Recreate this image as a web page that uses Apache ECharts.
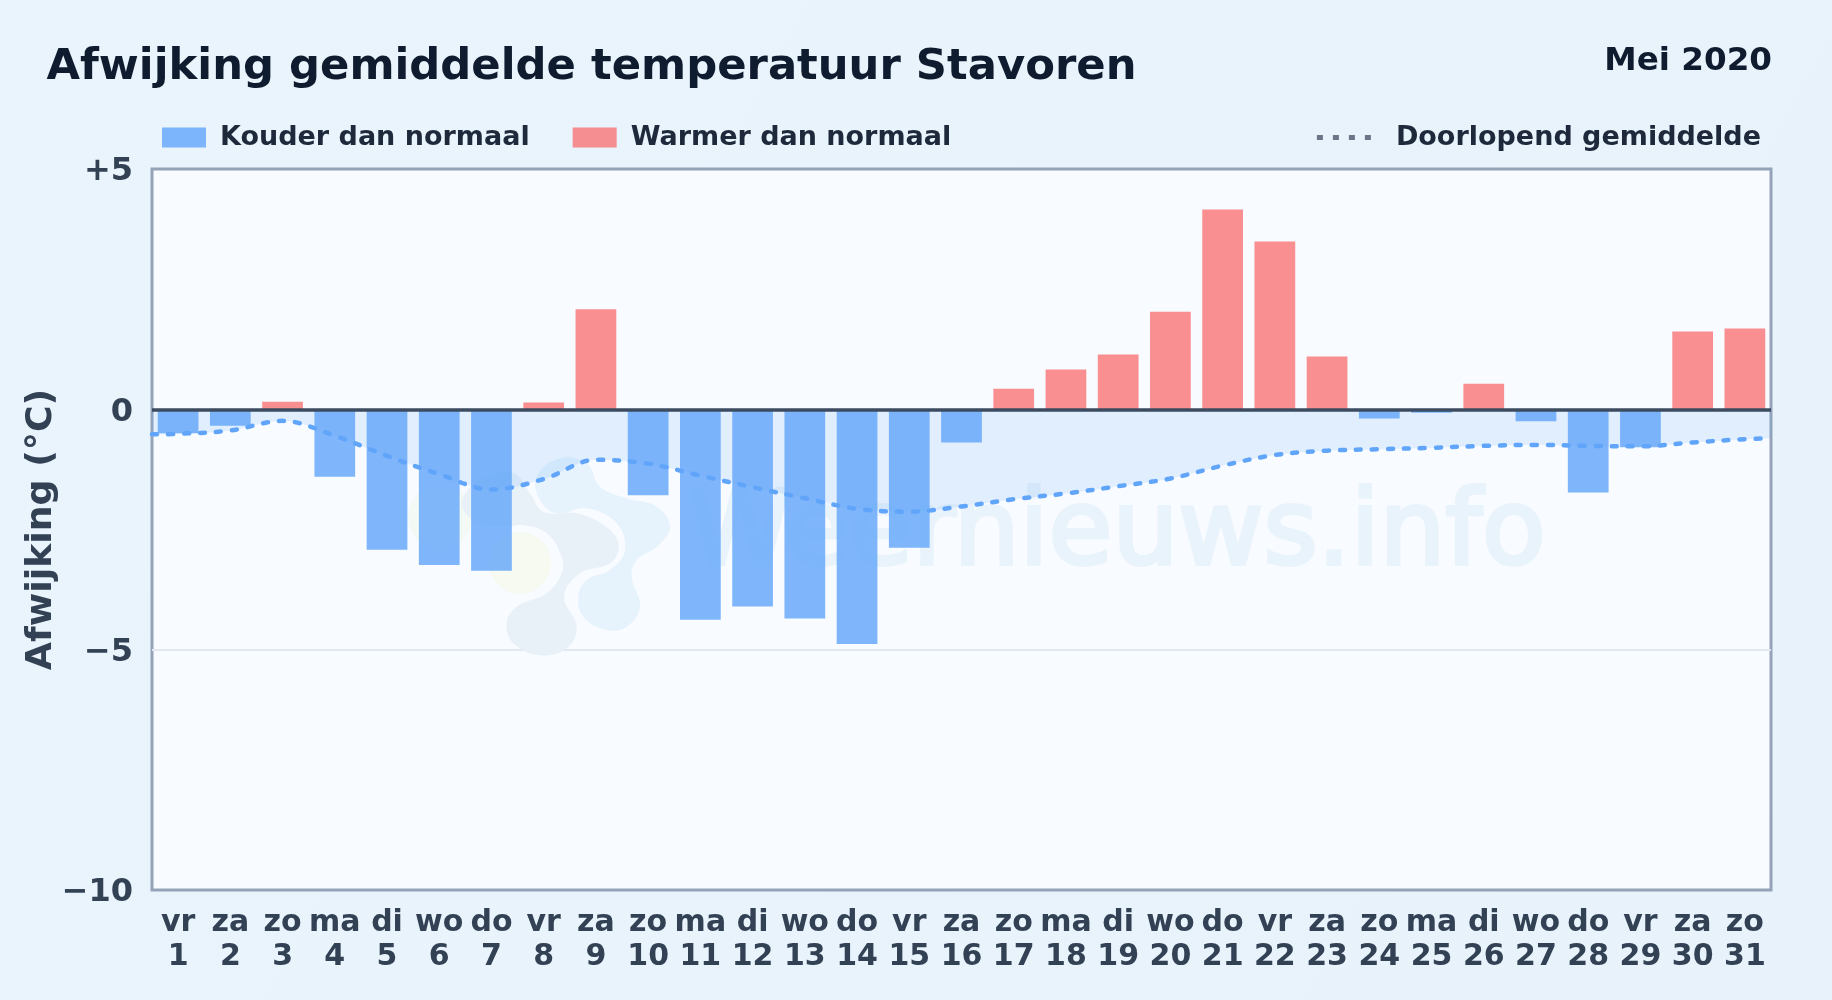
<!DOCTYPE html>
<html>
<head>
<meta charset="utf-8">
<style>html,body{margin:0;padding:0;background:#e8f3fc}#c{width:1832px;height:1000px}</style>
<script src="https://cdn.jsdelivr.net/npm/echarts@6/dist/echarts.min.js"></script>
</head>
<body>
<div id="c"></div>
<script>
const weekdays = ['vr','za','zo','ma','di','wo','do','vr','za','zo','ma','di','wo','do','vr','za','zo','ma','di','wo','do','vr','za','zo','ma','di','wo','do','vr','za','zo'];
const days = [1,2,3,4,5,6,7,8,9,10,11,12,13,14,15,16,17,18,19,20,21,22,23,24,25,26,27,28,29,30,31];
const deviation = [-0.50,-0.34,0.16,-1.40,-2.92,-3.24,-3.36,0.14,2.08,-1.79,-4.38,-4.10,-4.35,-4.88,-2.88,-0.69,0.43,0.83,1.14,2.03,4.16,3.49,1.10,-0.19,-0.07,0.53,-0.25,-1.73,-0.79,1.62,1.68];
const rolling = [-0.51,-0.44,-0.24,-0.55,-0.97,-1.35,-1.67,-1.45,-1.05,-1.13,-1.38,-1.62,-1.85,-2.07,-2.13,-2.02,-1.87,-1.75,-1.60,-1.44,-1.17,-0.95,-0.86,-0.83,-0.80,-0.76,-0.74,-0.76,-0.77,-0.69,-0.62];
const rollingStart = -0.52;
const rollingEnd = -0.60;
const yTicks = {'5':'+5','0':'0','-5':'\u22125','-10':'\u221210'};

const FONT = '"DejaVu Sans"';
const cold = deviation.map(v => v < 0 ? v : null);
const warm = deviation.map(v => v >= 0 ? v : null);
const linePts = [[0.5, rollingStart]].concat(rolling.map((v, i) => [days[i], v]), [[31.5, rollingEnd]]);

// watermark logo outlines, in the 3x crop space
const z = p => p.map(([x, y]) => [380 + x / 3, 410 + y / 3]);
const blobGrey = z([[250,260],[300,210],[400,190],[450,250],[490,305],[600,312],[690,360],[716,410],[690,460],[600,490],[552,560],[590,650],[560,715],[480,736],[400,700],[380,640],[410,590],[500,550],[545,490],[545,440],[500,370],[430,345],[380,350],[300,340],[250,300]]);
const blobBlue = z([[470,200],[540,145],[620,160],[660,230],[740,265],[830,290],[870,350],[830,410],[770,450],[755,500],[780,590],[740,650],[680,660],[610,620],[595,560],[620,510],[690,480],[735,420],[710,340],[620,295],[530,310],[480,270]]);

const chart = echarts.init(document.getElementById('c'), null, {renderer:'canvas', width:1832, height:1000});
chart.setOption({
  animation:false,
  backgroundColor:{type:'linear',x:0,y:0,x2:1,y2:1,colorStops:[{offset:0,color:'#eaf4fc'},{offset:0.5,color:'#e8f3fc'},{offset:1,color:'#e7f2fb'}]},
  title:[
    {text:'Afwijking gemiddelde temperatuur Stavoren',left:41.5,top:41,textStyle:{fontFamily:FONT,fontWeight:'bold',fontSize:43.3,color:'#0f1b2e'}},
    {text:'Mei 2020',right:55,top:40,textStyle:{fontFamily:FONT,fontWeight:'bold',fontSize:32.6,color:'#0f1b2e'}}
  ],
  legend:[
    {left:157,top:119,itemWidth:44,itemHeight:20,itemGap:43,icon:'rect',data:['Kouder dan normaal','Warmer dan normaal'],
     textStyle:{fontFamily:FONT,fontWeight:'bold',fontSize:27,color:'#1e293b',padding:[3,0,0,9]}},
    {right:66,top:119,itemWidth:56,itemHeight:20,itemGap:0,
     data:[{name:'Doorlopend gemiddelde',itemStyle:{opacity:0},lineStyle:{color:'#6b7688',width:5,type:[6,10],cap:'butt'}}],
     textStyle:{fontFamily:FONT,fontWeight:'bold',fontSize:27,color:'#1e293b',padding:[3,0,0,18]}}
  ],
  grid:{left:152,right:61,top:169,bottom:110,show:true,backgroundColor:'#f8fbff',borderColor:'#94a3b8',borderWidth:3,containLabel:false},
  xAxis:[
    {type:'category',data:days.map((d,i)=>weekdays[i]+'\n'+d),axisLine:{show:false},axisTick:{show:false},
     axisLabel:{interval:0,margin:16,fontFamily:FONT,fontWeight:'bold',fontSize:30,lineHeight:34,color:'#334155',hideOverlap:false}},
    {type:'value',min:0.5,max:31.5,show:false}
  ],
  yAxis:{type:'value',min:-10,max:5,interval:5,name:'Afwijking (\u00b0C)',nameLocation:'middle',nameGap:92,nameRotate:90,nameMoveOverlap:false,
    nameTextStyle:{fontFamily:FONT,fontWeight:'bold',fontSize:36.3,color:'#334155'},
    axisLine:{show:false},axisTick:{show:false},
    axisLabel:{margin:19,formatter:v=>'{a|'+yTicks[String(v)]+'}',
      rich:{a:{padding:[6,0,0,0],fontFamily:FONT,fontWeight:'bold',fontSize:32,color:'#334155'}}},
    splitLine:{show:true,showMinLine:false,showMaxLine:false,lineStyle:{color:'#e2e8f0',width:2}}},
  graphic:[
    {type:'circle',z:1,silent:true,shape:{cx:440,cy:517,r:32},style:{fill:'#f3f9f5'}},
    {type:'polygon',z:1,silent:true,shape:{points:blobGrey,smooth:0.4},style:{fill:'#e8f0f8'}},
    {type:'polygon',z:1,silent:true,shape:{points:blobBlue,smooth:0.4},style:{fill:'#e6f3fd'}},
    {type:'circle',z:1,silent:true,shape:{cx:520,cy:563,r:31},style:{fill:'#f6faf0'}},
    {type:'text',z:1,silent:true,x:688,y:485,style:{text:'Weernieuws.info',fontFamily:FONT,fontSize:104,fontWeight:'normal',fill:'#e9f3fb',stroke:'#e9f3fb',lineWidth:4}}
  ],
  series:[
    {name:'Kouder dan normaal',type:'bar',stack:'d',data:cold,barCategoryGap:'22%',itemStyle:{color:'rgba(96,165,250,0.8)'},z:3},
    {name:'Warmer dan normaal',type:'bar',stack:'d',data:warm,barCategoryGap:'22%',itemStyle:{color:'rgba(248,113,113,0.78)'},z:3},
    {name:'Doorlopend gemiddelde',type:'line',xAxisIndex:1,data:linePts,smooth:0.35,symbol:'none',showSymbol:false,z:4,
     lineStyle:{color:'#60a5fa',width:4.5,type:[5,11],cap:'round'},
     areaStyle:{color:'rgba(96,165,250,0.21)'},
     markLine:{silent:true,symbol:'none',label:{show:false},lineStyle:{color:'#3d4b60',width:3.5,type:'solid'},data:[{yAxis:0}],z:6}}
  ]
});
</script>
</body>
</html>
